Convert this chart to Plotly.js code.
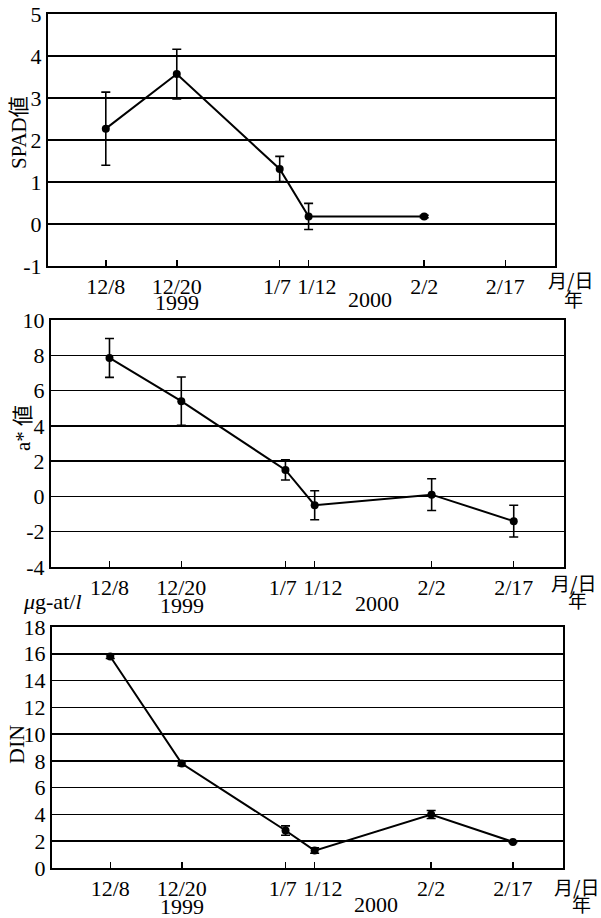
<!DOCTYPE html>
<html><head><meta charset="utf-8">
<script src="https://cdn.plot.ly/plotly-3.0.1.min.js"></script>
<style>html,body{margin:0;padding:0;background:#fff}#chart{width:601px;height:918px}</style>
</head><body><div id="chart"></div>
<script>
// ---- data ----
const xLabels = ["12/8", "12/20", "1/7", "1/12", "2/2", "2/17"];
const xPos = [1.14, 2.54, 4.57, 5.14, 7.42, 9.02];
const spadVals = [2.27, 3.57, 1.31, 0.18, 0.18, null];
const spadErr = [0.87, 0.59, 0.30, 0.31, 0.03, null];
const aVals = [7.85, 5.4, 1.5, -0.5, 0.1, -1.4];
const aErr = [1.1, 1.37, 0.57, 0.82, 0.9, 0.9];
const dinVals = [15.8, 7.8, 2.8, 1.3, 4.0, 1.95];
const dinErr = [0.15, 0.15, 0.35, 0.2, 0.3, 0.05];
const spadTicks = [-1, 0, 1, 2, 3, 4, 5];
const aTicks = [-4, -2, 0, 2, 4, 6, 8, 10];
const dinTicks = [0, 2, 4, 6, 8, 10, 12, 14, 16, 18];
const yearLabels = ["1999", "2000"];
const unitLabel = "月/日";
const yearUnit = "年";

const serif = "Liberation Serif, DejaVu Serif, serif";
const mixed = "Liberation Serif, Noto Sans CJK JP, serif";
const cjk = "Noto Sans CJK JP, sans-serif";
const NB = "\u00a0";

// display padding so that the crowded labels sit apart as in the reference
const tickText = xLabels.map((t, i) => i === 2 ? t + NB : (i === 3 ? NB + NB + NB + t : t));

function trace(vals, err, xa, ya) {
  return {
    x: xPos, y: vals, xaxis: xa, yaxis: ya, type: 'scatter', mode: 'lines+markers',
    line: {color: '#000', width: 2},
    marker: {color: '#000', size: 8},
    error_y: {type: 'data', array: err, visible: true, color: '#000', thickness: 1.6, width: 4.5},
    connectgaps: false, showlegend: false, hoverinfo: 'skip'
  };
}

const data = [
  trace(spadVals, spadErr, 'x', 'y'),
  trace(aVals, aErr, 'x2', 'y2'),
  trace(dinVals, dinErr, 'x3', 'y3')
];

function xax(domain, anchor) {
  return {
    domain: domain, anchor: anchor, range: [0, 10],
    tickmode: 'array', tickvals: xPos, ticktext: tickText, tickangle: 0,
    ticks: 'inside', ticklen: 6, tickwidth: 1.5, tickcolor: '#000',
    showline: true, linecolor: '#000', linewidth: 2, mirror: true,
    showgrid: false, zeroline: false,
    tickfont: {family: serif, size: 22, color: '#000'}, fixedrange: true
  };
}
function yax(domain, anchor, range, ticks) {
  return {
    domain: domain, anchor: anchor, range: range,
    tickmode: 'array', tickvals: ticks, ticktext: ticks.map(v => String(v)),
    ticks: '', showline: true, linecolor: '#000', linewidth: 2, mirror: true,
    showgrid: true, gridcolor: '#000', gridwidth: 1.5, zeroline: false,
    tickfont: {family: serif, size: 22, color: '#000'}, fixedrange: true
  };
}

const W = 601, H = 918;
const px = v => v / W, py = v => 1 - v / H;

const annotations = [];
function ann(text, x, y, xref, font, size, angle) {
  annotations.push({text: text, x: x, y: y, xref: xref, yref: 'paper', showarrow: false,
    xanchor: 'center', yanchor: 'middle', textangle: angle || 0,
    font: {family: font, size: size, color: '#000'}});
}
// year labels
[['x', 302], ['x2', 605], ['x3', 906]].forEach(([xr, yy]) => {
  ann(yearLabels[0], 2.55, py(yy), xr, serif, 22);
  ann(yearLabels[1], 6.35, py(yy - 2), xr, serif, 22);
});
// unit labels
[[570, 279, 573, 298], [573, 582, 577, 599], [576, 886, 581, 903]].forEach(([x1, y1, x2, y2]) => {
  ann(unitLabel, px(x1), py(y1), 'paper', cjk, 19);
  ann(yearUnit, px(x2), py(y2), 'paper', cjk, 19);
});
// y titles
ann("SPAD値", px(19), py(133), 'paper', mixed, 21, -90);
ann("a* 値", px(23), py(428), 'paper', mixed, 21, -90);
ann("DIN", px(16), py(745), 'paper', serif, 22, -90);
ann("<i>μ</i>g-at/<i>l</i>", px(52), py(601), 'paper', serif, 22);

const layout = {
  width: W, height: H, margin: {l: 0, r: 0, t: 0, b: 0},
  paper_bgcolor: '#fff', plot_bgcolor: '#fff', showlegend: false,
  xaxis: xax([px(48), px(555)], 'y'),
  yaxis: yax([py(266), py(14)], 'x', [-1, 5], spadTicks),
  xaxis2: xax([px(51), px(564)], 'y2'),
  yaxis2: yax([py(567), py(320)], 'x2', [-4, 10], aTicks),
  xaxis3: xax([px(52), px(563)], 'y3'),
  yaxis3: yax([py(868), py(627)], 'x3', [0, 18], dinTicks),
  annotations: annotations
};

Plotly.newPlot('chart', data, layout, {displayModeBar: false, staticPlot: true});
</script></body></html>
